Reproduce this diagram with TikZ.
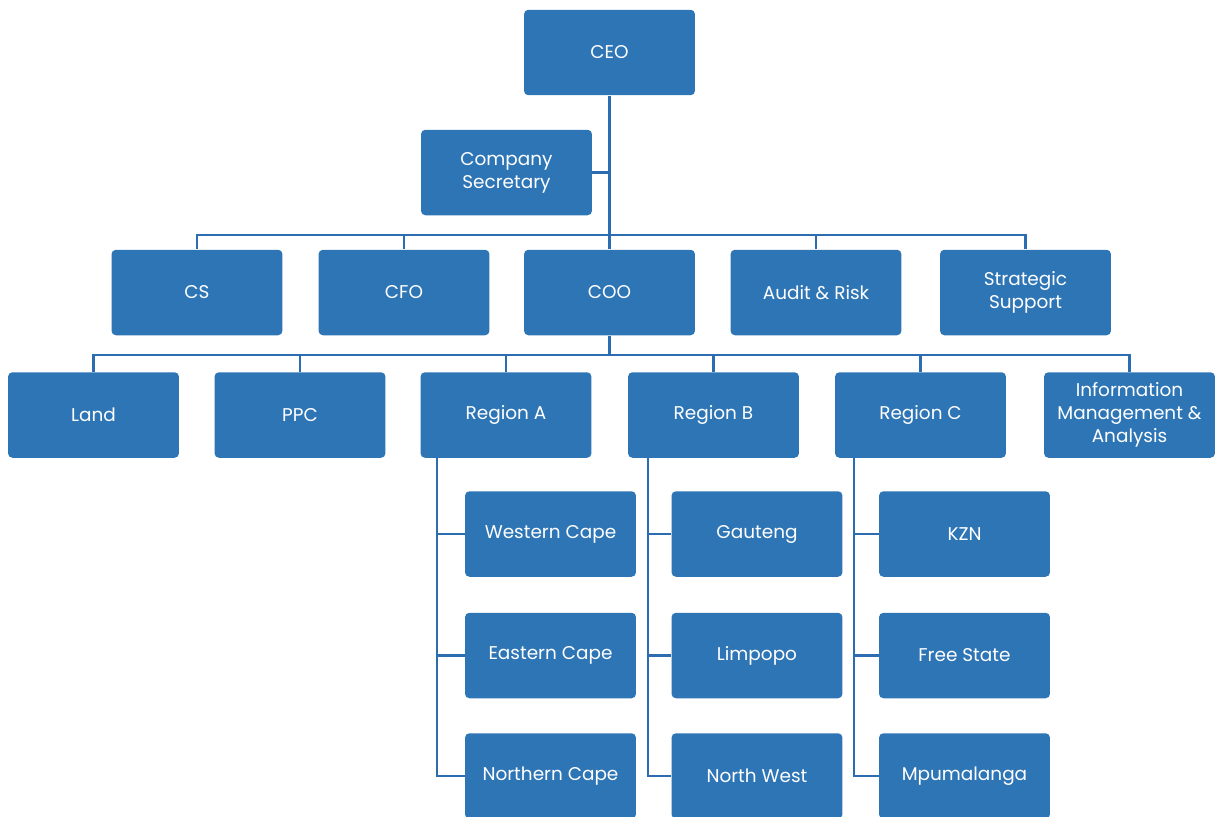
\documentclass[tikz,border=0pt]{standalone}
\usepackage{fontspec}
\setmainfont{Poppins}
\definecolor{boxblue}{RGB}{46,117,182}
\definecolor{lineblue}{RGB}{44,108,176}
\begin{document}
\begin{tikzpicture}[x=0.02cm,y=-0.02cm,
  orgbox/.style={rectangle, rounded corners=2.5pt, fill=boxblue, text=white,
    minimum width=3.42cm, minimum height=1.71cm, inner sep=0pt, align=center,
    font=\fontsize{10.5}{13}\selectfont},
  link/.style={draw=lineblue, line width=1.6pt}]
\useasboundingbox (0,0) rectangle (1215,816);
% level 0/1
\node[orgbox] (ceo) at (609.5,52.5) {CEO};
\node[orgbox] (csec) at (506.5,172.5) {Company\\Secretary};
% level 2
\node[orgbox] (cs) at (197,292.5) {CS};
\node[orgbox] (cfo) at (404,292.5) {CFO};
\node[orgbox] (coo) at (609.5,292.5) {COO};
\node[orgbox] (audit) at (816,292.5) {Audit \& Risk};
\node[orgbox] (strat) at (1025.5,292.5) {Strategic\\Support};
% level 3
\node[orgbox] (land) at (93.5,415) {Land};
\node[orgbox] (ppc) at (300,415) {PPC};
\node[orgbox] (rega) at (506,415) {Region A};
\node[orgbox] (regb) at (713.5,415) {Region B};
\node[orgbox] (regc) at (920.5,415) {Region C};
\node[orgbox] (info) at (1129.5,415) {Information\\Management \&\\Analysis};
% level 4
\node[orgbox] (wc) at (550.5,534) {Western Cape};
\node[orgbox] (ec) at (550.5,655.5) {Eastern Cape};
\node[orgbox] (nc) at (550.5,776) {Northern Cape};
\node[orgbox] (gau) at (757,534) {Gauteng};
\node[orgbox] (lim) at (757,655.5) {Limpopo};
\node[orgbox] (nw) at (757,776) {North West};
\node[orgbox] (kzn) at (964.5,534) {KZN};
\node[orgbox] (fs) at (964.5,655.5) {Free State};
\node[orgbox] (mpu) at (964.5,776) {Mpumalanga};
% bus coordinates
\coordinate (b1) at (0,235);
\coordinate (b2) at (0,355);
\coordinate (va) at (437,0);
\coordinate (vb) at (648,0);
\coordinate (vc) at (854,0);
% connectors
\draw[link] (ceo.south) -- (coo.north);
\draw[link] (csec.east) -- (csec.east -| ceo.south);
\draw[link] (cs.north) -- (cs.north |- b1) -- (strat.north |- b1) -- (strat.north);
\draw[link] (cfo.north) -- (cfo.north |- b1);
\draw[link] (audit.north) -- (audit.north |- b1);
\draw[link] (coo.south) -- (coo.south |- b2);
\draw[link] (land.north) -- (land.north |- b2) -- (info.north |- b2) -- (info.north);
\draw[link] (ppc.north) -- (ppc.north |- b2);
\draw[link] (rega.north) -- (rega.north |- b2);
\draw[link] (regb.north) -- (regb.north |- b2);
\draw[link] (regc.north) -- (regc.north |- b2);
% region A
\draw[link] (va |- rega.south) -- (va |- nc.west) -- (nc.west);
\draw[link] (va |- wc.west) -- (wc.west);
\draw[link] (va |- ec.west) -- (ec.west);
% region B
\draw[link] (vb |- regb.south) -- (vb |- nw.west) -- (nw.west);
\draw[link] (vb |- gau.west) -- (gau.west);
\draw[link] (vb |- lim.west) -- (lim.west);
% region C
\draw[link] (vc |- regc.south) -- (vc |- mpu.west) -- (mpu.west);
\draw[link] (vc |- kzn.west) -- (kzn.west);
\draw[link] (vc |- fs.west) -- (fs.west);
\end{tikzpicture}
\end{document}
